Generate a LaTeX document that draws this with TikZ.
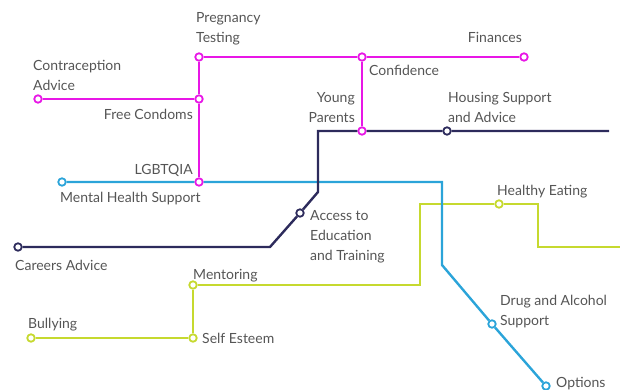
\documentclass[tikz,border=0pt]{standalone}
\usepackage{fontspec}
\setmainfont{Lato}
\definecolor{tubepink}{HTML}{E817E6}
\definecolor{tubeblue}{HTML}{2BA4D9}
\definecolor{tubenavy}{HTML}{2D2B5C}
\definecolor{tubelime}{HTML}{C6D92F}
\definecolor{labelgray}{HTML}{555555}
\begin{document}
\begin{tikzpicture}[x=1pt,y=-1pt,
  stop/.style={circle, draw, fill=white, line width=1.8pt, inner sep=0pt, minimum size=7.5pt},
  tube/.style={line width=2.4pt},
  lbl/.style={inner sep=0pt, text=labelgray, align=left, font=\fontsize{14}{20}\selectfont}]
\useasboundingbox (0,0) rectangle (620,390);
% stations
\node[stop, draw=tubepink](contra) at (38,99) {};
\node[stop, draw=tubepink](condoms) at (199,99) {};
\node[stop, draw=tubepink](preg) at (199,57) {};
\node[stop, draw=tubepink](confid) at (362,57) {};
\node[stop, draw=tubepink](finance) at (524,57) {};
\node[stop, draw=tubepink](lgbt) at (199,182) {};
\node[stop, draw=tubepink](young) at (362,131) {};
\node[stop, draw=tubenavy](housing) at (447,131) {};
\node[stop, draw=tubenavy](access) at (300,213) {};
\node[stop, draw=tubenavy](careers) at (18,247) {};
\node[stop, draw=tubeblue](mental) at (62,182) {};
\node[stop, draw=tubeblue](drugs) at (492,324) {};
\node[stop, draw=tubeblue](options) at (546,386) {};
\node[stop, draw=tubelime](bully) at (31,338) {};
\node[stop, draw=tubelime](esteem) at (193,338) {};
\node[stop, draw=tubelime](mentor) at (193,285) {};
\node[stop, draw=tubelime](healthy) at (499,204) {};
% bends and line ends
\coordinate (navyend) at (609,131);
\coordinate (navytop) at (318,131);
\coordinate (navyknee) at (318,192);
\coordinate (navyfoot) at (270,247);
\coordinate (bluecorner) at (442,182);
\coordinate (bluedrop) at (442,265);
\coordinate (limeup) at (420,285);
\coordinate (limetop) at (420,204);
\coordinate (limeright) at (538,204);
\coordinate (limedown) at (538,247);
\coordinate (limeend) at (620,247);
% lines
\draw[tube, tubelime] (bully) -- (esteem) -- (mentor) -- (limeup) -- (limetop) -- (healthy) -- (limeright) -- (limedown) -- (limeend);
\draw[tube, tubeblue] (mental) -- (lgbt) -- (bluecorner) -- (bluedrop) -- (drugs) -- (options);
\draw[tube, tubenavy] (careers) -- (navyfoot) -- (access) -- (navyknee) -- (navytop) -- (young) -- (housing) -- (navyend);
\draw[tube, tubepink] (contra) -- (condoms);
\draw[tube, tubepink] (preg) -- (condoms) -- (lgbt);
\draw[tube, tubepink] (preg) -- (confid) -- (finance);
\draw[tube, tubepink] (confid) -- (young);
% labels
\node[lbl, anchor=base west](tpreg) at (196,43) {Pregnancy\\Testing};
\node[lbl, anchor=base west](tcontra) at (33,91) {Contraception\\Advice};
\node[lbl, anchor=base east](tcondoms) at (193,120) {Free Condoms};
\node[lbl, anchor=base east](tlgbt) at (193,175) {LGBTQIA};
\node[lbl, anchor=base west](tmental) at (60,202) {Mental Health Support};
\node[lbl, anchor=base east](tfinance) at (522,43) {Finances};
\node[lbl, anchor=base west](tconfid) at (369,76) {Confidence};
\node[lbl, anchor=base east, align=right](tyoung) at (355,123) {Young\\Parents};
\node[lbl, anchor=base west](thousing) at (448,123) {Housing Support\\and Advice};
\node[lbl, anchor=base west](thealthy) at (497,195) {Healthy Eating};
\node[lbl, anchor=base west](taccess) at (310,260) {Access to\\Education\\and Training};
\node[lbl, anchor=base west](tcareers) at (15,270) {Careers Advice};
\node[lbl, anchor=base west](tmentor) at (193,279) {Mentoring};
\node[lbl, anchor=base west](tbully) at (28,328) {Bullying};
\node[lbl, anchor=base west](testeem) at (202,343) {Self Esteem};
\node[lbl, anchor=base west](tdrugs) at (500,325) {Drug and Alcohol\\Support};
\node[lbl, anchor=base west](toptions) at (556,387) {Options};
\end{tikzpicture}
\end{document}
